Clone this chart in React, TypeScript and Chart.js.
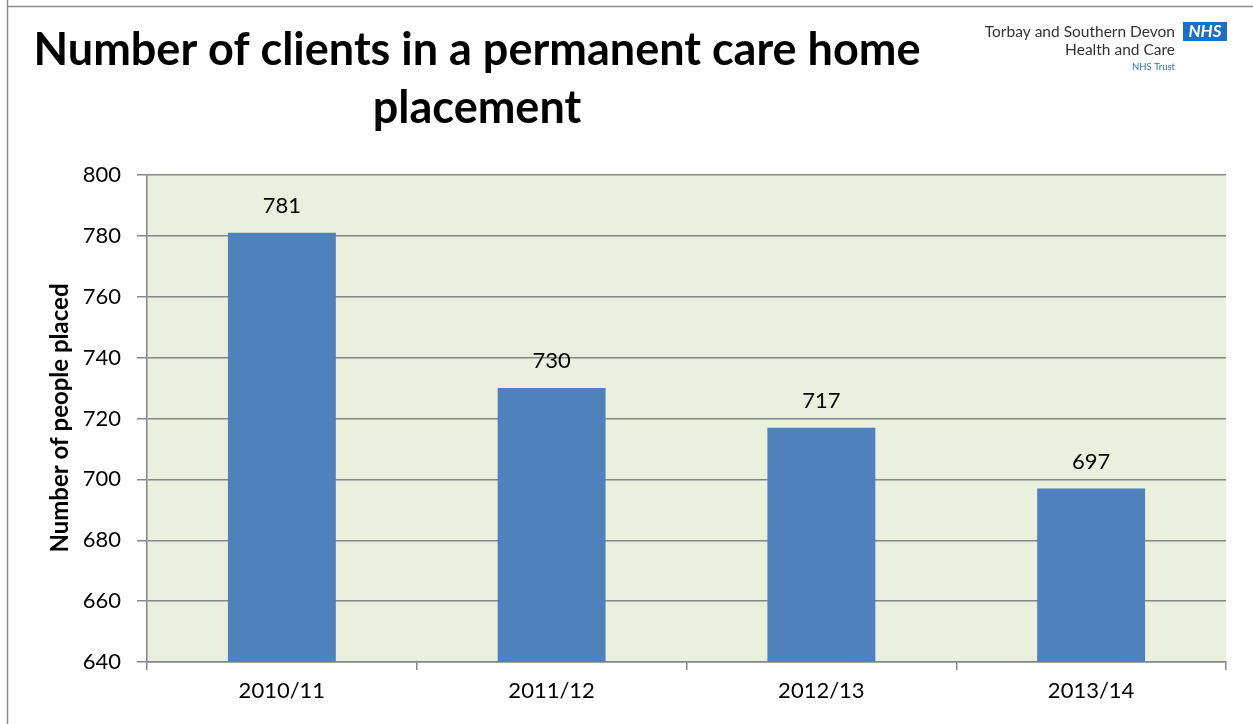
import React, { useEffect, useRef } from "react";
import { Chart, registerables } from "chart.js";

Chart.register(...registerables);

const categories = ["2010/11", "2011/12", "2012/13", "2013/14"];
const placed = [781, 730, 717, 697];
const titleLines = ["Number of clients in a permanent care home", "placement"];
const yAxisTitle = "Number of people placed";
const logoLines = ["Torbay and Southern Devon", "Health and Care", "NHS Trust"];

const FONT = "Lato, 'Open Sans', sans-serif";

const decorPlugin = {
  id: "decor",
  beforeDraw(chart: any) {
    const { ctx, chartArea } = chart;
    ctx.save();
    ctx.fillStyle = "#EBEFDE";
    ctx.fillRect(chartArea.left, chartArea.top, chartArea.right - chartArea.left, chartArea.bottom - chartArea.top);
    ctx.restore();
  },
  afterDraw(chart: any) {
    const { ctx } = chart;
    ctx.save();
    // frame
    ctx.strokeStyle = "#8a8a8a";
    ctx.lineWidth = 1.5;
    ctx.beginPath();
    ctx.moveTo(7.5, 0);
    ctx.lineTo(7.5, 724);
    ctx.moveTo(7.5, 6.5);
    ctx.lineTo(1253, 6.5);
    ctx.stroke();

    // title
    ctx.fillStyle = "#000";
    ctx.textAlign = "center";
    ctx.textBaseline = "middle";
    ctx.font = `bold 45px ${FONT}`;
    ctx.fillText(titleLines[0], 477, 50);
    ctx.fillText(titleLines[1], 477, 108);

    // logo
    ctx.textAlign = "right";
    ctx.fillStyle = "#333";
    ctx.font = `15.5px ${FONT}`;
    ctx.fillText(logoLines[0], 1175, 32);
    ctx.fillText(logoLines[1], 1175, 50);
    ctx.fillStyle = "#2a6db5";
    ctx.font = `9.5px ${FONT}`;
    ctx.fillText(logoLines[2], 1175, 67);
    ctx.fillStyle = "#1d6fc1";
    ctx.fillRect(1183, 22, 44, 19);
    ctx.fillStyle = "#fff";
    ctx.textAlign = "center";
    ctx.font = `italic bold 17px ${FONT}`;
    ctx.fillText("NHS", 1205, 32);

    // y axis title
    ctx.save();
    ctx.translate(60, 418);
    ctx.rotate(-Math.PI / 2);
    ctx.fillStyle = "#000";
    ctx.font = `bold 24px ${FONT}`;
    ctx.textAlign = "center";
    ctx.fillText(yAxisTitle, 0, 0);
    ctx.restore();

    // data labels
    const meta = chart.getDatasetMeta(0);
    ctx.fillStyle = "#000";
    ctx.font = `22px ${FONT}`;
    ctx.textAlign = "center";
    meta.data.forEach((bar: any, i: number) => {
      ctx.fillText(String(placed[i]), bar.x, bar.y - 27);
    });
    ctx.restore();
  },
};

export default function App() {
  const ref = useRef<HTMLCanvasElement>(null);
  useEffect(() => {
    document.body.style.margin = "0";
    const chart = new Chart(ref.current!, {
      type: "bar",
      data: {
        labels: categories,
        datasets: [
          {
            data: placed,
            backgroundColor: "#4F81BD",
            barPercentage: 0.4,
            categoryPercentage: 1,
          },
        ],
      },
      options: {
        animation: false,
        responsive: false,
        devicePixelRatio: 1,
        layout: { padding: { left: 0, top: 175, right: 27, bottom: 0 } },
        plugins: { legend: { display: false }, tooltip: { enabled: false }, title: { display: false } },
        scales: {
          x: {
            offset: true,
            afterFit: (s: any) => { s.height = 62; },
            grid: { offset: true, drawOnChartArea: false, drawTicks: true, tickLength: 8, color: "#868686", lineWidth: 1.5 },
            border: { display: true, color: "#868686", width: 1.5 },
            ticks: { color: "#000", font: { family: FONT, size: 22 }, padding: 8 },
          },
          y: {
            min: 640,
            max: 800,
            afterFit: (s: any) => { s.width = 147; },
            ticks: { stepSize: 20, color: "#000", font: { family: FONT, size: 22 }, padding: 16 },
            grid: { color: "#868686", lineWidth: 1.5, tickLength: 10, drawTicks: true },
            border: { display: true, color: "#868686", width: 1.5 },
          },
        },
      },
      plugins: [decorPlugin],
    });
    return () => chart.destroy();
  }, []);
  return (
    <div style={{ position: "fixed", left: 0, top: 0, width: 1253, height: 724, background: "#fff" }}>
      <canvas ref={ref} width={1253} height={724} style={{ display: "block" }} />
    </div>
  );
}
